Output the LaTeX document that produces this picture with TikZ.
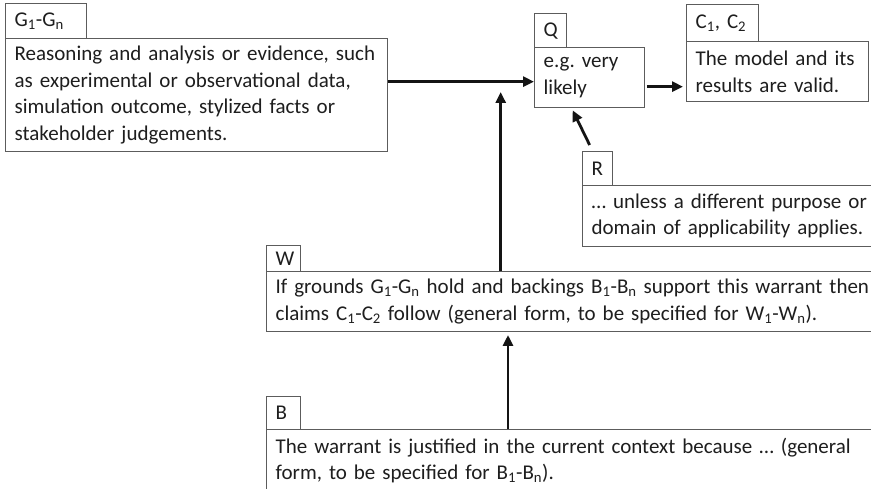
\documentclass[tikz,border=0pt]{standalone}
\usepackage{fontspec}
\setmainfont{Carlito}
\usetikzlibrary{arrows.meta,calc}
\definecolor{framegray}{HTML}{5C5C5C}
\definecolor{inkgray}{HTML}{1E1E1E}
\frenchspacing
\tikzset{
  panel/.style={draw=framegray, line width=1.3pt, rectangle, anchor=north west,
    inner xsep=9pt, inner ysep=0pt, align=left, text=inkgray,
    font=\fontsize{21}{26.5}\selectfont},
  link/.style={line width=2.8pt, draw=black!92,
    -{Triangle[length=11pt,width=10pt]}},
}
\begin{document}
\begin{tikzpicture}[x=1pt,y=-1pt]
  \useasboundingbox (0,0) rectangle (871,489);
  \fill[white] (0,0) rectangle (871,489);
  \clip (0,0) rectangle (871,489);

  % grounds
  \node[panel, minimum width=81pt, minimum height=35pt, text width=63pt] (gtag) at (5,3)
    {G\textsubscript{1}-G\textsubscript{n}};
  \node[panel, minimum width=382pt, minimum height=113pt, text width=364pt] (gmain) at (5,38)
    {Reasoning and analysis or evidence, such\\
     as experimental or observational data,\\
     simulation outcome, stylized facts or\\
     stakeholder judgements.};

  % qualifier
  \node[panel, minimum width=32pt, minimum height=34pt, text width=14pt] (qtag) at (534,13) {Q};
  \node[panel, minimum width=110pt, minimum height=60pt, text width=92pt] (qmain) at (534,47)
    {e.g.\ very\\ likely};

  % claims
  \node[panel, minimum width=72pt, minimum height=37pt, text width=54pt] (ctag) at (686,4)
    {C\textsubscript{1}, C\textsubscript{2}};
  \node[panel, minimum width=182pt, minimum height=60pt, text width=164pt] (cmain) at (686,41)
    {The model and its\\ results are valid.};

  % rebuttal
  \node[panel, minimum width=30pt, minimum height=34pt, text width=12pt] (rtag) at (582,151) {R};
  \node[panel, minimum width=310pt, minimum height=61pt, text width=292pt] (rmain) at (582,185)
    {… unless a different purpose or\\ domain of applicability applies.};

  % warrant
  \node[panel, minimum width=34pt, minimum height=26pt, text width=16pt] (wtag) at (266,245) {W};
  \node[panel, minimum width=624pt, minimum height=60pt, text width=606pt] (wmain) at (266,271)
    {If grounds G\textsubscript{1}-G\textsubscript{n} hold and backings B\textsubscript{1}-B\textsubscript{n} support this warrant then\\
     claims C\textsubscript{1}-C\textsubscript{2} follow (general form, to be specified for W\textsubscript{1}-W\textsubscript{n}).};

  % backing
  \node[panel, minimum width=34pt, minimum height=33pt, text width=16pt] (btag) at (266,396) {B};
  \node[panel, minimum width=624pt, minimum height=62pt, text width=606pt] (bmain) at (266,429)
    {The warrant is justified in the current context because … (general\\
     form, to be specified for B\textsubscript{1}-B\textsubscript{n}).};

  % connectors
  \coordinate (qin) at ($(qmain.west)+(0,4)$);
  \coordinate (qout) at ($(qmain.east)+(1.5,9)$);
  \coordinate (wqtip) at (500.7,92);
  \coordinate (bwtip) at (508,335);

  \draw[link] (gmain.east |- qin) -- (qin);
  \draw[link, shorten >=3pt] (qout) -- (qout -| cmain.west);
  \draw[link] (wmain.north -| wqtip) -- (wqtip);
  \draw[link] (bmain.north -| bwtip) -- (bwtip);
  \draw[link] ($(rtag.north)+(-8,-6)$) -- ($(qmain.south)+(-17,2)$);
\end{tikzpicture}
\end{document}
